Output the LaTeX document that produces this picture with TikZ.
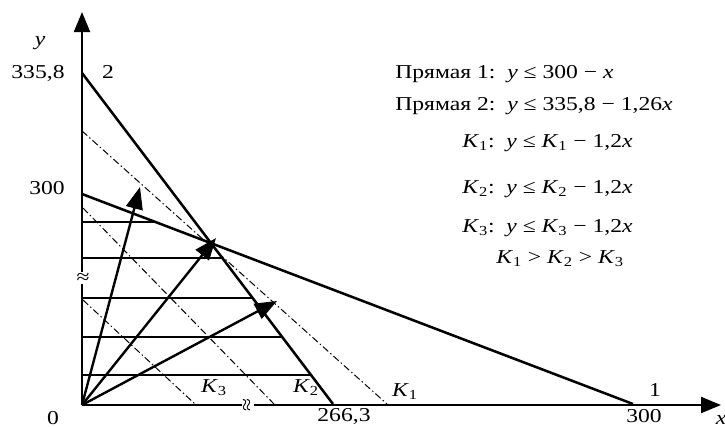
\documentclass[tikz,border=0pt]{standalone}
\usepackage{fontspec}
\setmainfont{Liberation Serif}[FakeStretch=1.2]
\usetikzlibrary{arrows.meta}
\definecolor{Ink}{HTML}{000000}
\tikzset{
  axisline/.style={line width=1.4pt, draw=Ink, -{Triangle[length=5mm,width=4mm]}},
  boundline/.style={line width=1.8pt, draw=Ink},
  levelline/.style={line width=0.7pt, draw=Ink, dash pattern=on 5pt off 2pt on 1pt off 2pt},
  hatchline/.style={line width=1.7pt, draw=Ink},
  ray/.style={line width=1.7pt, draw=Ink, -{Triangle[length=5.5mm,width=4.2mm]}},
  lbl/.style={font=\fontsize{14}{16}\selectfont, inner sep=0pt, text=Ink},
  eqn/.style={lbl, anchor=west},
  brk/.style={lbl, fill=white, inner sep=0.5pt}
}
\newcommand{\Kk}[1]{\textit{K}\textsubscript{#1}}

\begin{document}
\begin{tikzpicture}[x=0.025cm, y=-0.025cm]
    \useasboundingbox (0,0) rectangle (725,427);
    % key points
    \coordinate (O) at (82,405);
    \coordinate (ytip) at (82,12);
    \coordinate (xtip) at (721,405);
    \coordinate (Y2) at (82,73);
    \coordinate (X2) at (333,404);
    \coordinate (Y1) at (82,194);
    \coordinate (X1) at (633,404);
    \coordinate (R1) at (140,187);
    \coordinate (R2) at (216,238);
    \coordinate (R3) at (277,301);
    % hatching of the region
    \foreach \yy/\xx in {222/155, 258/222, 298/253, 337/282, 375/311}
      \draw[hatchline] (82,\yy) -- (\xx,\yy);
    % level lines
    \draw[levelline] (82,131) -- (387,404);
    \draw[levelline] (83,208) -- (274,404);
    \draw[levelline] (83,300) -- (195,404);
    % axes and bounds
    \draw[axisline] (O) -- (ytip);
    \draw[axisline] (O) -- (xtip);
    \draw[boundline] (Y2) -- (X2);
    \draw[boundline] (Y1) -- (X1);
    \draw[ray] (O) -- (R1);
    \draw[ray] (O) -- (R2);
    \draw[ray] (O) -- (R3);
    \node[brk] (ybrk) at (83,278) {≈};
    \node[brk,rotate=90] (xbrk) at (248,405) {≈};
    % labels
    \node[lbl] (ylab) at (40,43) {\textit{y}};
    \node[lbl] (y2lab) at (38,73) {335,8};
    \node[lbl] (n2) at (108,72) {2};
    \node[lbl] (y1lab) at (47,188) {300};
    \node[lbl] (olab) at (53,418) {0};
    \node[lbl] (k3lab) at (214,388) {\Kk{3}};
    \node[lbl] (k2lab) at (306,388) {\Kk{2}};
    \node[lbl] (k1lab) at (405,392) {\Kk{1}};
    \node[lbl] (x2lab) at (344,416) {266,3};
    \node[lbl] (n1) at (655,390) {1};
    \node[lbl] (x1lab) at (644,416) {300};
    \node[lbl] (xlab) at (721,420) {\textit{x}};
    % equations
    \node[eqn] (e1) at (395,74) {Прямая 1:\ \ \textit{y} ≤ 300 − \textit{x}};
    \node[eqn] (e2) at (395,106) {Прямая 2:\ \ \textit{y} ≤ 335,8 − 1,26\textit{x}};
    \node[eqn] (e3) at (462,143) {\Kk{1}:\ \ \textit{y} ≤ \Kk{1} − 1,2\textit{x}};
    \node[eqn] (e4) at (462,189) {\Kk{2}:\ \ \textit{y} ≤ \Kk{2} − 1,2\textit{x}};
    \node[eqn] (e5) at (462,228) {\Kk{3}:\ \ \textit{y} ≤ \Kk{3} − 1,2\textit{x}};
    \node[lbl] (e6) at (560,259) {\Kk{1} > \Kk{2} > \Kk{3}};
\end{tikzpicture}
\end{document}
